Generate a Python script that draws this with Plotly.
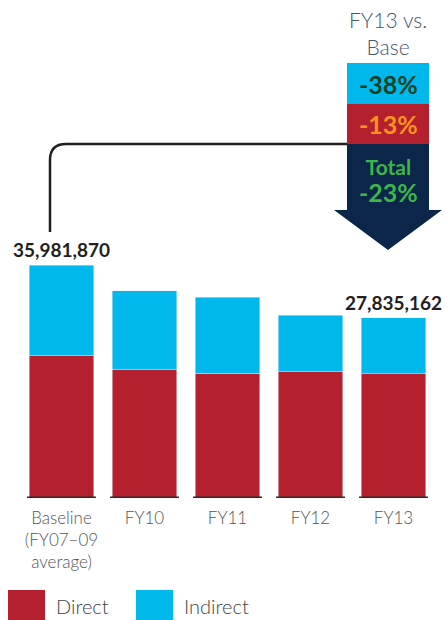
"""Emisje bezpośrednie i pośrednie: Baseline vs FY10-FY13."""

import plotly.graph_objects as go

categories = ["Baseline<br>(FY07–09<br>average)", "FY10", "FY11", "FY12", "FY13"]
direct = [22_001_870, 19_770_000, 19_300_000, 19_460_000, 19_195_162]
indirect = [13_980_000, 12_200_000, 11_740_000, 8_800_000, 8_640_000]
labelled = [0, 4]  # które słupki mają etykietę sumy

RED = "#b5202e"
CYAN = "#00b8ec"
NAVY = "#0b2649"

totals = [d + i for d, i in zip(direct, indirect)]


def pct(new, old):
    return f"{round((new - old) / old * 100):d}%"


chg_indirect = pct(indirect[-1], indirect[0])
chg_direct = pct(direct[-1], direct[0])
chg_total = pct(totals[-1], totals[0])

# geometria w pikselach ekranu (margines body zerowany w post_script)
W, H = 445, 620
PL, PR, PT, PB = 20, 10, 10, 122
PW, PH = W - PL - PR, H - PT - PB
PX_PER_UNIT = 233 / totals[0]


def px(x):
    return (x - PL) / PW


def py(y):
    return (PT + PH - y) / PH


fig = go.Figure()
fig.add_trace(go.Bar(x=categories, y=direct, name="Direct", marker_color=RED,
                     hoverinfo="skip"))
fig.add_trace(go.Bar(x=categories, y=indirect, name="Indirect", marker_color=CYAN,
                     hoverinfo="skip"))

# kreski pod słupkami
for i in range(len(categories)):
    fig.add_shape(type="line", xref="x", yref="y", x0=i - 0.415, x1=i + 0.415,
                  y0=0, y1=0, line=dict(color="#2b2b2b", width=3))

for i in labelled:
    fig.add_annotation(x=categories[i], y=totals[i], text=f"<b>{totals[i]:,}</b>",
                       showarrow=False, yanchor="bottom", yshift=2,
                       font=dict(size=19, color="#231f20", family="Lato"))

# łącznik od baseline do strzałki
fig.add_shape(type="path", xref="paper", yref="paper",
              path=(f"M {px(50)},{py(232)} L {px(50)},{py(160)} "
                    f"Q {px(50)},{py(144)} {px(66)},{py(144)} L {px(348)},{py(144)}"),
              line=dict(color="#231f20", width=2.5))

# strzałka z podsumowaniem
fig.add_shape(type="path", xref="paper", yref="paper", line_width=0, fillcolor=NAVY,
              path=(f"M {px(347)},{py(144)} L {px(429)},{py(144)} L {px(429)},{py(210)} "
                    f"L {px(442)},{py(210)} L {px(388)},{py(250)} L {px(334)},{py(210)} "
                    f"L {px(347)},{py(210)} Z"))
fig.add_shape(type="rect", xref="paper", yref="paper", line_width=0, fillcolor=CYAN,
              x0=px(347), x1=px(429), y0=py(104), y1=py(63))
fig.add_shape(type="rect", xref="paper", yref="paper", line_width=0, fillcolor=RED,
              x0=px(347), x1=px(429), y0=py(144), y1=py(104))

box_text = [
    ("FY13 vs.<br>Base", 33, dict(size=21, color="#45566e", family="Lato", weight=300)),
    (f"<b>{chg_indirect}</b>", 84, dict(size=25, color="#0d4227", family="Lato")),
    (f"<b>{chg_direct}</b>", 124, dict(size=25, color="#f7941d", family="Lato")),
    (f"<b>Total</b><br><b><span style='font-size:25px'>{chg_total}</span></b>", 180,
     dict(size=21, color="#3cb54a", family="Lato")),
]
for text, y, font in box_text:
    fig.add_annotation(xref="paper", yref="paper", x=px(388), y=py(y), text=text,
                       showarrow=False, xanchor="center", yanchor="middle", font=font,
                       borderpad=0)

# legenda własna (duże kwadraty)
for name, color, x0 in [("Direct", RED, 8), ("Indirect", CYAN, 136)]:
    fig.add_shape(type="rect", xref="paper", yref="paper", line_width=0, fillcolor=color,
                  x0=px(x0), x1=px(x0 + 37), y0=py(620), y1=py(590))
    fig.add_annotation(xref="paper", yref="paper", x=px(x0 + 46), y=py(606), text=name,
                       showarrow=False, xanchor="left", yanchor="middle",
                       font=dict(size=20, color="#444444", family="Lato", weight=300))

fig.update_layout(
    width=W,
    height=H,
    barmode="stack",
    bargap=0.217,
    showlegend=False,
    hovermode=False,
    plot_bgcolor="white",
    paper_bgcolor="white",
    margin=dict(l=PL, r=PR, t=PT, b=PB, autoexpand=False),
    font=dict(family="Lato"),
)
fig.update_xaxes(range=[-0.5, len(categories) - 0.5], showline=False, showgrid=False,
                 ticks="", automargin=False, ticklabelstandoff=8,
                 tickfont=dict(size=17, color="#555555", family="Lato", weight=300))
fig.update_yaxes(range=[0, PH / PX_PER_UNIT], visible=False, showgrid=False,
                 automargin=False)

fig.write_html(
    "out.html",
    config={"displayModeBar": False},
    post_script="document.body.style.margin='0';document.body.style.overflow='hidden';",
)
